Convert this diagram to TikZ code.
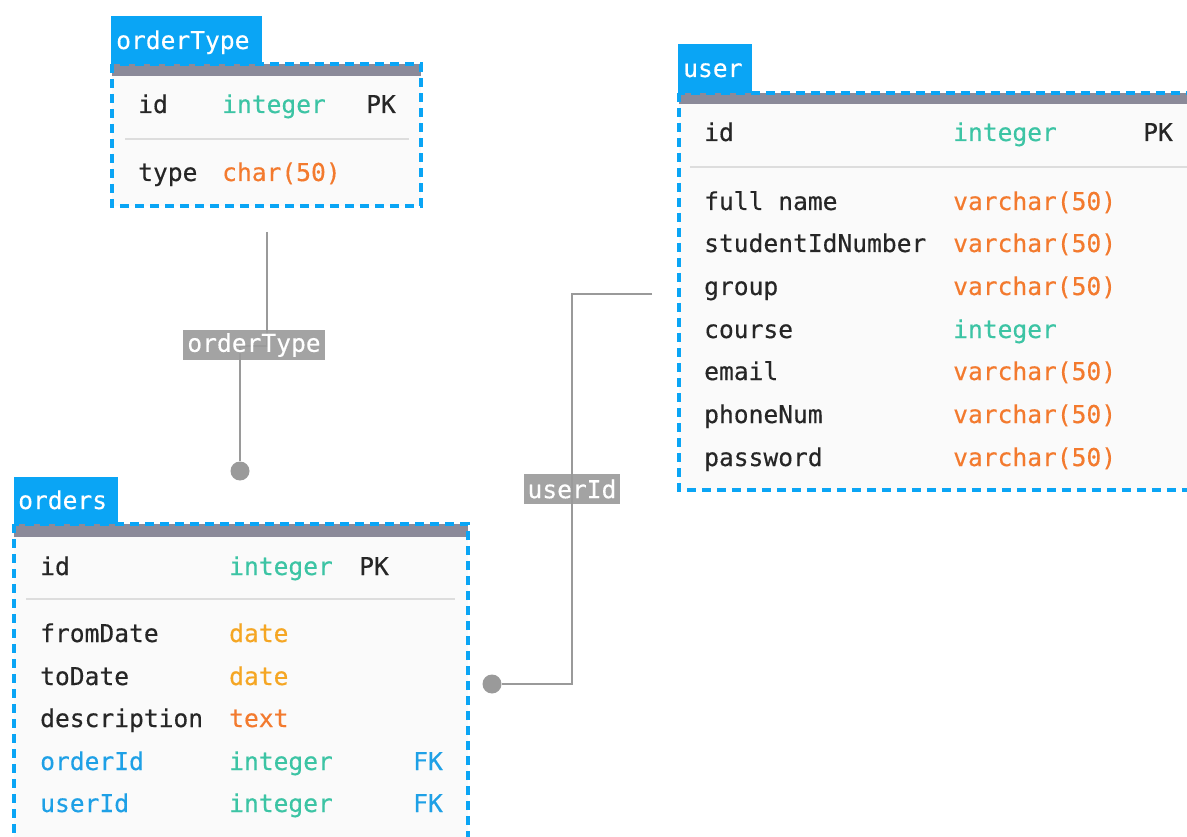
\documentclass[tikz,border=0pt]{standalone}
\usepackage{fontspec}
\setmonofont[FakeBold=0.35]{DejaVu Sans Mono}
\definecolor{tabblue}{HTML}{0AA5F5}
\definecolor{bargray}{HTML}{8B8A99}
\definecolor{bodygray}{HTML}{FAFAFA}
\definecolor{sepgray}{HTML}{DDDDDD}
\definecolor{inttype}{HTML}{3CC4A4}
\definecolor{strtype}{HTML}{F37A2E}
\definecolor{datetype}{HTML}{F5A623}
\definecolor{fkblue}{HTML}{1EA0E6}
\definecolor{linkgray}{HTML}{9A9A9A}
\tikzset{
  base/.style={font=\ttfamily\fontsize{24.6}{29}\selectfont,inner sep=0pt,anchor=base west},
  fname/.style={base,text=black!85},
  fkname/.style={base,text=fkblue},
  tint/.style={base,text=inttype},
  tstr/.style={base,text=strtype},
  tdate/.style={base,text=datetype},
  keytag/.style={base,text=black!85},
  fktag/.style={base,text=fkblue},
  tabtext/.style={base,text=white},
  frame/.style={draw=tabblue,line width=3.5pt,dash pattern=on 9pt off 6pt},
  conn/.style={draw=linkgray,line width=1.6pt},
  dot/.style={circle,fill=linkgray,minimum size=19pt,inner sep=0pt},
  linklabel/.style={fill=linkgray,fill opacity=0.9,text opacity=1,text=white,font=\ttfamily\fontsize{24.6}{29}\selectfont,inner xsep=4pt,inner ysep=0pt,minimum height=30pt}
}
\begin{document}
\begin{tikzpicture}[x=1pt,y=-1pt]
\useasboundingbox (0,0) rectangle (1187,837);
\fill[white] (0,0) rectangle (1187,837);

\fill[bodygray] (112,64) rectangle (421,206);
\fill[bargray] (112,64) rectangle (421,76);
\fill[tabblue] (111,16) rectangle (262,64);
\draw[sepgray,line width=1.2pt] (125,139) -- (409,139);
\draw[frame] (112,64) rectangle (421,206);
\node[tabtext] (ot-head) at (116,49) {orderType};
\node[fname] (ot-id) at (138,113) {id};
\node[tint] (ot-id-t) at (222,113) {integer};
\node[keytag] (ot-id-k) at (366,113) {PK};
\node[fname] (ot-type) at (138,181) {type};
\node[tstr] (ot-type-t) at (222,181) {char(50)};

\fill[bodygray] (679,93) rectangle (1200,490);
\fill[bargray] (679,93) rectangle (1200,104);
\fill[tabblue] (678,44) rectangle (752,93);
\draw[sepgray,line width=1.2pt] (690,167) -- (1200,167);
\draw[frame] (679,93) rectangle (1200,490);
\node[tabtext] (us-head) at (683,77) {user};
\node[fname] (us-id) at (704,141) {id};
\node[tint] (us-id-t) at (953,141) {integer};
\node[keytag] (us-id-k) at (1143,141) {PK};
\node[fname] (us-name) at (704,210) {full name};
\node[tstr] (us-name-t) at (953,210) {varchar(50)};
\node[fname] (us-sid) at (704,252) {studentIdNumber};
\node[tstr] (us-sid-t) at (953,252) {varchar(50)};
\node[fname] (us-group) at (704,295) {group};
\node[tstr] (us-group-t) at (953,295) {varchar(50)};
\node[fname] (us-course) at (704,338) {course};
\node[tint] (us-course-t) at (953,338) {integer};
\node[fname] (us-email) at (704,380) {email};
\node[tstr] (us-email-t) at (953,380) {varchar(50)};
\node[fname] (us-phone) at (704,423) {phoneNum};
\node[tstr] (us-phone-t) at (953,423) {varchar(50)};
\node[fname] (us-pass) at (704,466) {password};
\node[tstr] (us-pass-t) at (953,466) {varchar(50)};

\fill[bodygray] (14,524) rectangle (468,860);
\fill[bargray] (14,524) rectangle (468,537);
\fill[tabblue] (14,477) rectangle (118,524);
\draw[sepgray,line width=1.2pt] (26,599) -- (455,599);
\draw[frame] (14,524) rectangle (468,860);
\node[tabtext] (or-head) at (18,509) {orders};
\node[fname] (or-id) at (40,575) {id};
\node[tint] (or-id-t) at (229,575) {integer};
\node[keytag] (or-id-k) at (359,575) {PK};
\node[fname] (or-from) at (40,642) {fromDate};
\node[tdate] (or-from-t) at (229,642) {date};
\node[fname] (or-to) at (40,685) {toDate};
\node[tdate] (or-to-t) at (229,685) {date};
\node[fname] (or-desc) at (40,727) {description};
\node[tstr] (or-desc-t) at (229,727) {text};
\node[fkname] (or-oid) at (40,770) {orderId};
\node[tint] (or-oid-t) at (229,770) {integer};
\node[fktag] (or-oid-k) at (413,770) {FK};
\node[fkname] (or-uid) at (40,812) {userId};
\node[tint] (or-uid-t) at (229,812) {integer};
\node[fktag] (or-uid-k) at (413,812) {FK};

\coordinate (ot-top) at (267,232);
\coordinate (ot-bend) at (240,346);
\node[dot] (ot-dot) at (240,471) {};
\draw[conn] (ot-top) |- (ot-bend) -- (ot-dot);
\node[linklabel] (ot-label) at (254,345) {orderType};

\coordinate (us-top) at (652,294);
\node[dot] (us-dot) at (492,684) {};
\coordinate (us-mid) at (572,489);
\draw[conn] (us-top) -| (us-mid) |- (us-dot);
\node[linklabel] (us-label) at (572,489) {userId};
\end{tikzpicture}
\end{document}
